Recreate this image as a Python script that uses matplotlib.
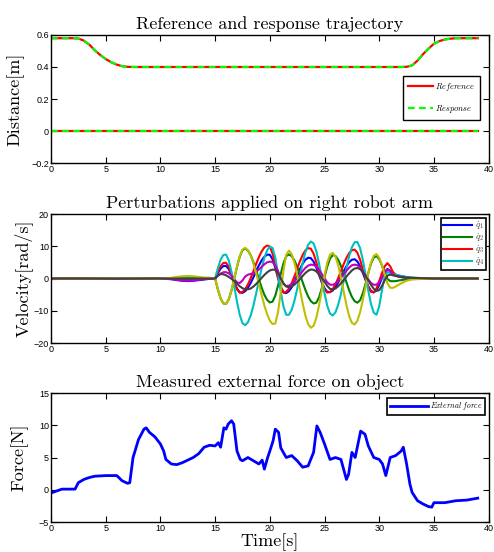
import matplotlib
matplotlib.use("Agg")
import matplotlib.pyplot as plt

plt.rcParams['mathtext.fontset'] = 'cm'

# panel 1 : reference / response (distance in m)
t1 = [0, 2, 2.5, 3, 3.5, 4, 4.5, 5, 5.5, 6, 6.5, 7, 7.5, 8,
      32, 32.5, 33, 33.5, 34, 34.5, 35, 35.5, 36, 36.5, 37, 37.5, 39]
dist_upper = [0.58, 0.58, 0.578, 0.565, 0.54, 0.505, 0.475, 0.45, 0.43, 0.415, 0.405, 0.401, 0.40, 0.40,
              0.40, 0.401, 0.41, 0.44, 0.48, 0.515, 0.545, 0.562, 0.572, 0.577, 0.58, 0.58, 0.58]
t1_low = [0, 39]
dist_lower = [0.0, 0.0]

# panel 2 : joint velocity perturbations (rad/s)
t2 = [0, 3, 6, 9, 10, 11, 11.5, 12, 12.5, 13, 13.5, 14, 14.5,
      15, 15.25, 15.5, 15.75, 16, 16.25, 16.5, 16.75, 17, 17.25, 17.5, 17.75,
      18, 18.25, 18.5, 18.75, 19, 19.25, 19.5, 19.75, 20, 20.25, 20.5, 20.75,
      21, 21.25, 21.5, 21.75, 22, 22.25, 22.5, 22.75, 23, 23.25, 23.5, 23.75,
      24, 24.25, 24.5, 24.75, 25, 25.25, 25.5, 25.75, 26, 26.25, 26.5, 26.75,
      27, 27.25, 27.5, 27.75, 28, 28.25, 28.5, 28.75, 29, 29.25, 29.5, 29.75,
      30, 30.25, 30.5, 30.75, 31, 31.25, 31.5,
      32, 32.5, 33, 34, 35, 39]
q1 = [0, 0, -0.1, 0, 0, -0.2, -0.5, -0.7, -0.8, -0.7, -0.5, -0.3, -0.1,
      0, 1.7, 3.06, 3.86, 3.91, 2.91, 1.06, -1.13, -3.09, -4.29, -4.45, -3.93,
      -2.87, -1.39, 0.38, 2.25, 4.06, 5.61, 6.76, 7.39, 7.37, 5.95, 3.32, 0.19,
      -2.6, -4.3, -4.54, -3.92, -2.69, -0.99, 0.95, 2.89, 4.59, 5.82, 6.44, 6.32,
      5.24, 3.38, 1.1, -1.18, -3.04, -4.12, -4.25, -3.72, -2.66, -1.2, 0.5, 2.24,
      3.82, 5.06, 5.81, 5.98, 5.31, 3.81, 1.75, -0.48, -2.46, -3.82, -4.3, -3.65,
      -1.95, 0.22, 2.08, 2.97, 2.4, 1.5, 1.0,
      0.5, 0.3, 0.1, 0, 0, 0]
q2 = [0, 0, 0, 0, 0, -0.1, -0.3, -0.4, -0.4, -0.3, -0.2, -0.1, 0,
      0, -3.38, -6.13, -7.73, -7.87, -6.43, -3.68, -0.1, 3.61, 6.77, 8.78, 9.28,
      8.66, 7.22, 5.1, 2.54, -0.2, -2.81, -5.04, -6.63, -7.42, -7.18, -5.3, -2.17,
      1.46, 4.76, 6.93, 7.48, 6.92, 5.6, 3.68, 1.34, -1.15, -3.53, -5.56, -7.01,
      -7.73, -7.51, -5.83, -2.98, 0.44, 3.72, 6.17, 7.27, 6.99, 5.82, 3.9, 1.47,
      -1.15, -3.64, -5.69, -7.03, -7.5, -6.74, -4.61, -1.58, 1.74, 4.63, 6.51, 6.97,
      6.02, 4.03, 1.72, -0.11, -0.8, -0.85, -0.8,
      -0.5, -0.25, -0.1, 0, 0, 0]
q3 = [0, 0, 0, 0, 0, 0, 0.1, 0.1, 0.1, 0.1, 0, 0, 0,
      0, 2.1, 3.8, 4.8, 4.88, 3.62, 1.35, -1.26, -3.38, -4.37, -4.18, -3.3,
      -1.83, 0.08, 2.27, 4.52, 6.63, 8.38, 9.64, 10.24, 9.92, 7.71, 4.14, 0.23,
      -2.9, -4.36, -4.14, -3.13, -1.46, 0.68, 3.02, 5.32, 7.3, 8.71, 9.43, 9.24,
      7.69, 5.06, 1.91, -1.11, -3.36, -4.37, -4.17, -3.27, -1.78, 0.15, 2.3, 4.45,
      6.38, 7.87, 8.77, 8.97, 8.0, 5.83, 2.92, -0.12, -2.65, -4.15, -4.29, -3.05,
      -0.83, 1.72, 3.8, 4.77, 3.8, 2.0, 1.2,
      0.7, 0.4, 0.2, 0.1, 0, 0]
q4 = [0, 0, 0.1, 0, 0, 0.1, 0.2, 0.3, 0.3, 0.2, 0.1, 0.1, 0.2,
      0, 3.2, 5.8, 7.3, 7.43, 5.6, 2.08, -2.49, -7.23, -11.26, -13.84, -14.47,
      -13.57, -11.46, -8.38, -4.64, -0.65, 3.16, 6.41, 8.74, 9.89, 9.47, 6.44, 1.49,
      -4.07, -8.74, -11.26, -11.24, -9.67, -6.9, -3.24, 0.82, 4.77, 8.13, 10.47, 11.47,
      10.88, 8.46, 4.62, 0, -4.62, -8.46, -10.88, -11.47, -10.47, -8.13, -4.77, -0.82,
      3.24, 6.9, 9.67, 11.24, 11.33, 9.44, 5.8, 1.09, -3.8, -7.96, -10.62, -11.22,
      -8.56, -3.61, 0.73, 1.98, 1.7, 1.4, 1.2,
      0.8, 0.5, 0.3, 0.1, 0, 0]
q5 = [0, 0, -0.1, 0, 0, -0.2, -0.4, -0.6, -0.7, -0.6, -0.4, -0.2, -0.1,
      0, 0.85, 1.53, 1.93, 1.97, 1.6, 0.9, -0.2, -1.2, -1.4, -0.6, 0.6,
      1.2, 1.4, 1.6, 2.1, 2.8, 3.6, 4.4, 5.0, 5.25, 5.1, 4.1, 2.3,
      0.1, -1.7, -2.35, -2.2, -1.7, -0.9, 0.1, 1.2, 2.3, 3.3, 4.0, 4.3,
      4.2, 3.7, 2.7, 1.4, 0.0, -1.2, -1.9, -1.95, -1.6, -0.9, 0.2, 1.3,
      2.4, 3.4, 4.1, 4.3, 4.1, 3.4, 2.3, 1.0, -0.3, -1.4, -1.95, -1.9,
      -1.1, 0.3, 1.8, 2.75, 2.3, 1.3, 0.8,
      0.4, 0.2, 0.1, 0, 0, 0]
q6 = [0, 0, 0.1, 0, 0, 0.2, 0.5, 0.7, 0.8, 0.7, 0.5, 0.3, 0.2,
      0, -3.38, -6.13, -7.73, -7.87, -6.42, -3.63, -0.01, 3.74, 6.94, 8.98, 9.48,
      8.79, 7.14, 4.7, 1.67, -1.71, -5.14, -8.35, -11.05, -13.03, -14.12, -13.97, -10.42,
      -4.19, 2.55, 7.38, 8.66, 7.51, 4.86, 1.08, -3.3, -7.68, -11.46, -14.11, -15.26,
      -14.67, -12.22, -8.33, -3.65, 1.03, 4.92, 7.37, 7.97, 6.78, 4.09, 0.3, -4.02,
      -8.21, -11.62, -13.75, -14.27, -13.11, -10.46, -6.73, -2.5, 1.62, 4.97, 7.06, 7.57,
      6.44, 4.05, 1.12, -1.45, -2.87, -2.9, -2.5,
      -1.5, -0.7, -0.3, -0.1, 0, 0]
q7 = [0, 0, 0, 0, 0, 0, 0, 0, 0, 0, 0, 0, 0,
      0, 0.9, 1.4, 1.3, 1.0, 0.5, -0.1, -0.8, -1.6, -2.4, -3.0, -3.35,
      -3.35, -3.1, -2.5, -1.7, -0.8, 0.2, 1.1, 1.9, 2.5, 2.75, 2.7, 1.6,
      0.0, -1.5, -2.5, -2.7, -2.5, -1.9, -1.1, -0.2, 0.8, 1.7, 2.4, 2.8,
      2.7, 2.2, 1.3, 0.2, -1.0, -2.3, -3.2, -3.35, -3.1, -2.4, -1.5, -0.5,
      0.6, 1.6, 2.5, 3.1, 3.25, 2.9, 2.0, 0.8, -0.6, -2.0, -3.2, -3.85,
      -3.6, -2.3, -0.5, 0.9, 1.2, 1.0, 0.8,
      0.5, 0.3, 0.2, 0.1, 0, 0]
q_series = [q1, q2, q3, q4, q5, q6, q7]
q_colors = ['#0000ff', '#008000', '#ff0000', '#00bfbf', '#bf00bf', '#bfbf00', '#404040']
q_labels = [r'$\dot{q}_1$', r'$\dot{q}_2$', r'$\dot{q}_3$', r'$\dot{q}_4$']

# panel 3 : measured external force (N)
t3 = [0, 0.5, 1, 2, 2.2, 2.5, 3, 3.5, 4, 5, 6, 6.2, 6.5, 7, 7.2, 7.5, 8, 8.5, 8.7, 9,
      9.5, 10, 10.3, 10.5, 11, 11.5, 12, 12.5, 13, 13.5, 14, 14.5, 15, 15.3, 15.5, 15.8,
      16, 16.2, 16.5, 16.7, 17, 17.3, 17.5, 18, 18.5, 19, 19.3, 19.5, 19.8, 20, 20.3,
      20.5, 20.8, 21, 21.5, 22, 22.5, 23, 23.5, 24, 24.3, 24.6, 25, 25.5, 26, 26.5, 27,
      27.2, 27.5, 27.8, 28.3, 28.7, 29, 29.5, 30, 30.3, 30.6, 31, 31.5, 32, 32.2, 32.5,
      32.8, 33, 33.5, 34, 34.5, 34.8, 35, 36, 37, 38, 39]
force = [-0.5, -0.2, 0.1, 0.1, 0.1, 1.1, 1.6, 1.9, 2.1, 2.2, 2.2, 1.9, 1.4, 1.0, 1.1, 5.0, 7.8, 9.4, 9.6, 8.9,
         8.2, 7.1, 6.0, 4.7, 4.0, 3.9, 4.2, 4.6, 5.0, 5.6, 6.6, 6.9, 6.8, 7.3, 6.6, 9.6,
         9.4, 10.2, 10.7, 10.2, 6.0, 4.7, 4.5, 5.0, 4.5, 4.0, 4.6, 3.2, 5.0, 6.0, 7.6,
         9.4, 8.9, 6.5, 5.0, 5.3, 4.5, 3.5, 3.7, 5.8, 9.9, 8.9, 7.1, 4.7, 5.0, 4.7, 1.6,
         2.4, 5.8, 5.0, 9.1, 8.6, 6.8, 5.0, 4.7, 4.0, 2.2, 5.0, 5.3, 6.0, 6.6, 4.0,
         0.9, -0.4, -1.7, -2.2, -2.6, -2.7, -2.0, -2.0, -1.7, -1.6, -1.3]

xticks = [0, 5, 10, 15, 20, 25, 30, 35, 40]
yticks1 = [-0.2, 0, 0.2, 0.4, 0.6]
yticks2 = [-20, -10, 0, 10, 20]
yticks3 = [-5, 0, 5, 10, 15]

serif = 'cmr10'
tickfont = 'Liberation Sans'

fig = plt.figure(figsize=(4.94, 5.52), dpi=100)


def style(ax, ylim, yticks, ylabels):
    ax.set_xlim(0, 40)
    ax.set_ylim(*ylim)
    ax.set_xticks(xticks)
    ax.set_xticklabels([str(v) for v in xticks], family=tickfont, fontsize=6.5)
    ax.set_yticks(yticks)
    ax.set_yticklabels(ylabels, family=tickfont, fontsize=6.5)
    ax.tick_params(direction='in', length=4, width=0.8, top=True, right=True, pad=1.5)
    for s in ax.spines.values():
        s.set_linewidth(1.0)


W = 0.886

ax1 = fig.add_axes([0.1032, 0.7047, W, 0.2319])
ax1.plot(t1, dist_upper, color='#ff0000', lw=1.6, label=r'$Reference$')
ax1.plot(t1, dist_upper, color='#00ff00', lw=1.6, ls=(0, (3, 2)), label=r'$Response$')
ax1.plot(t1_low, dist_lower, color='#ff0000', lw=1.6)
ax1.plot(t1_low, dist_lower, color='#00ff00', lw=1.6, ls=(0, (3, 2)))
style(ax1, (-0.2, 0.6), yticks1, ['\u22120.2', '0', '0.2', '0.4', '0.6'])
ax1.set_title('Reference and response trajectory', family=serif, fontsize=13, pad=4)
ax1.set_ylabel('Distance[m]', family=serif, fontsize=13, labelpad=5)
leg = ax1.legend(loc='center right', bbox_to_anchor=(0.99, 0.505), fontsize=6,
                 fancybox=False, edgecolor='black', framealpha=1, handlelength=3.0,
                 borderpad=0.6, labelspacing=1.2, handletextpad=0.3)
leg.get_frame().set_linewidth(1.0)

ax2 = fig.add_axes([0.1032, 0.3786, W, 0.2337])
for vals, col in zip(q_series, q_colors):
    ax2.plot(t2, vals, color=col, lw=1.5)
style(ax2, (-20, 20), yticks2, ['\u221220', '\u221210', '0', '10', '20'])
ax2.set_title('Perturbations applied on right robot arm', family=serif, fontsize=13, pad=4)
ax2.set_ylabel('Velocity[rad/s]', family=serif, fontsize=13, labelpad=1)
leg2 = ax2.legend(ax2.get_lines()[:4], q_labels, loc='upper right', bbox_to_anchor=(1.0, 0.99),
                  fontsize=6.5, fancybox=False, edgecolor='black', framealpha=1,
                  handlelength=3.2, handleheight=0.5, borderpad=0.2, labelspacing=0.0,
                  handletextpad=0.3, borderaxespad=0.3, labelcolor='#444444')
leg2.get_frame().set_linewidth(1.2)

ax3 = fig.add_axes([0.1032, 0.0543, W, 0.2337])
ax3.plot(t3, force, color='#0000ff', lw=2.0, label=r'$External\ force$')
style(ax3, (-5, 15), yticks3, ['\u22125', '0', '5', '10', '15'])
ax3.set_title('Measured external force on object', family=serif, fontsize=13, pad=4)
ax3.set_ylabel('Force[N]', family=serif, fontsize=13, labelpad=7)
ax3.set_xlabel('Time[s]', family=serif, fontsize=13, labelpad=0)
leg3 = ax3.legend(loc='upper right', bbox_to_anchor=(1.0, 0.99), fontsize=5.5,
                  fancybox=False, edgecolor='black', framealpha=1, handlelength=5,
                  borderpad=0.3, handletextpad=0.3)
leg3.get_frame().set_linewidth(1.2)

fig.savefig('out.png', dpi=100)
